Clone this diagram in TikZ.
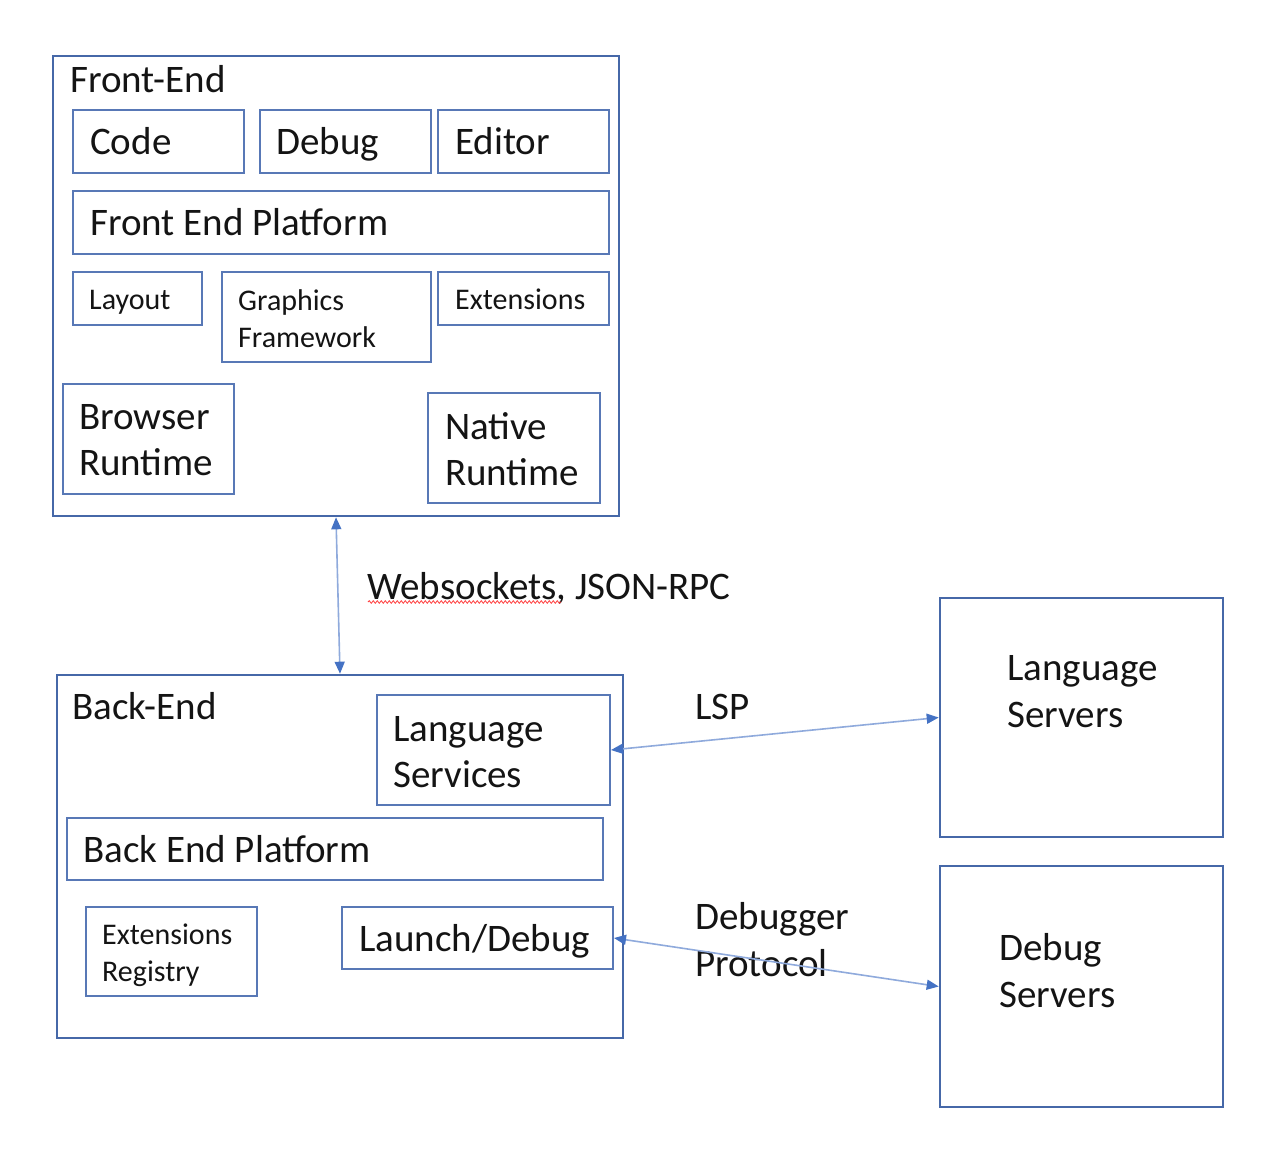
\documentclass[tikz,border=0pt]{standalone}
\usepackage{fontspec}
\setmainfont{Carlito}
\usetikzlibrary{arrows.meta,decorations.pathmorphing}
\definecolor{outerblue}{RGB}{70,104,168}
\definecolor{innerblue}{RGB}{88,120,182}
\definecolor{lineblue}{RGB}{143,170,220}
\definecolor{tipblue}{RGB}{68,114,196}
\definecolor{txtcol}{RGB}{20,20,20}
\begin{document}
\begin{tikzpicture}[x=1pt,y=-1pt,
  outerbox/.style={draw=outerblue,line width=2.6pt,inner sep=0pt,rectangle},
  innerbox/.style={draw=innerblue,line width=2pt,inner sep=0pt,rectangle},
  big/.style={font=\fontsize{39}{46.5}\selectfont,text=txtcol,inner sep=0pt,anchor=west,align=left},
  small/.style={font=\fontsize{30}{37}\selectfont,text=txtcol,inner sep=0pt,anchor=west,align=left},
  bigone/.style={big,text height=25.1pt,text depth=0pt},
  smallone/.style={small,text height=19.3pt,text depth=0pt},
  conn/.style={draw=lineblue,line width=1.6pt,{Triangle[length=12pt,width=10pt,color=tipblue]}-{Triangle[length=12pt,width=10pt,color=tipblue]}}
]
\useasboundingbox (0,0) rectangle (1278,1157);
\fill[white] (0,0) rectangle (1278,1157);

% Front-End
\node[outerbox,minimum width=566,minimum height=460] (fe) at (336,286) {};
\node[bigone] (fetxt) at (70,80) {Front-End};
\node[innerbox,minimum width=171,minimum height=63] (code) at (158.5,141.5) {};
\node[bigone] (codetxt) at (90,142) {Code};
\node[innerbox,minimum width=171,minimum height=63] (debug) at (345.5,141.5) {};
\node[bigone] (debugtxt) at (276,142) {Debug};
\node[innerbox,minimum width=171,minimum height=63] (editor) at (523.5,141.5) {};
\node[bigone] (editortxt) at (455,142) {Editor};
\node[innerbox,minimum width=536,minimum height=63] (fep) at (341,222.5) {};
\node[bigone] (feptxt) at (90,223) {Front End Platform};
\node[innerbox,minimum width=129,minimum height=53] (layout) at (137.5,298.5) {};
\node[smallone] (layouttxt) at (89,300) {Layout};
\node[innerbox,minimum width=209,minimum height=90] (graphics) at (326.5,317) {};
\node[small] (graphicstxt) at (238,318.5) {Graphics\\Framework};
\node[innerbox,minimum width=171,minimum height=53] (ext) at (523.5,298.5) {};
\node[smallone] (exttxt) at (455,300) {Extensions};
\node[innerbox,minimum width=171,minimum height=110] (browser) at (148.5,439) {};
\node[big] (browsertxt) at (79,440) {Browser\\Runtime};
\node[innerbox,minimum width=172,minimum height=110] (native) at (514,448) {};
\node[big] (nativetxt) at (445,449) {Native\\Runtime};

% Back-End
\node[outerbox,minimum width=566,minimum height=363] (be) at (340,856.5) {};
\node[bigone] (betxt) at (72,707) {Back-End};
\node[innerbox,minimum width=233,minimum height=110] (langsvc) at (493.5,750) {};
\node[big] (langsvctxt) at (393,752) {Language\\Services};
\node[innerbox,minimum width=536,minimum height=62] (bep) at (335,849) {};
\node[bigone] (beptxt) at (83,850) {Back End Platform};
\node[innerbox,minimum width=171,minimum height=89] (extreg) at (171.5,951.5) {};
\node[small] (extregtxt) at (102,955.5) {Extensions\\Registry};
\node[innerbox,minimum width=271,minimum height=62] (launch) at (477.5,938) {};
\node[bigone] (launchtxt) at (359,939) {Launch/Debug};

% Servers
\node[outerbox,minimum width=283,minimum height=239] (ls) at (1081.5,717.5) {};
\node[big] (lstxt) at (1007,691.5) {Language\\Servers};
\node[outerbox,minimum width=283,minimum height=241] (ds) at (1081.5,986.5) {};
\node[big] (dstxt) at (999,970.5) {Debug\\Servers};

% Labels
\node[bigone] (wstxt) at (367,587) {Websockets, JSON-RPC};
\coordinate (sqa) at (368,602);
\coordinate (sqb) at (561,602);
\draw[red!75,line width=0.8pt,decorate,decoration={snake,amplitude=1.3pt,segment length=4pt}] (sqa) -- (sqb);
\node[bigone] (lsptxt) at (695,707) {LSP};
\node[big] (dbgtxt) at (695,939.5) {Debugger\\Protocol};

% Connectors
\draw[conn] (fe.south) -- (be.north);
\draw[conn] (langsvc.east) -- (ls.west);
\draw[conn] (launch.east) -- (ds.west);
\end{tikzpicture}
\end{document}
